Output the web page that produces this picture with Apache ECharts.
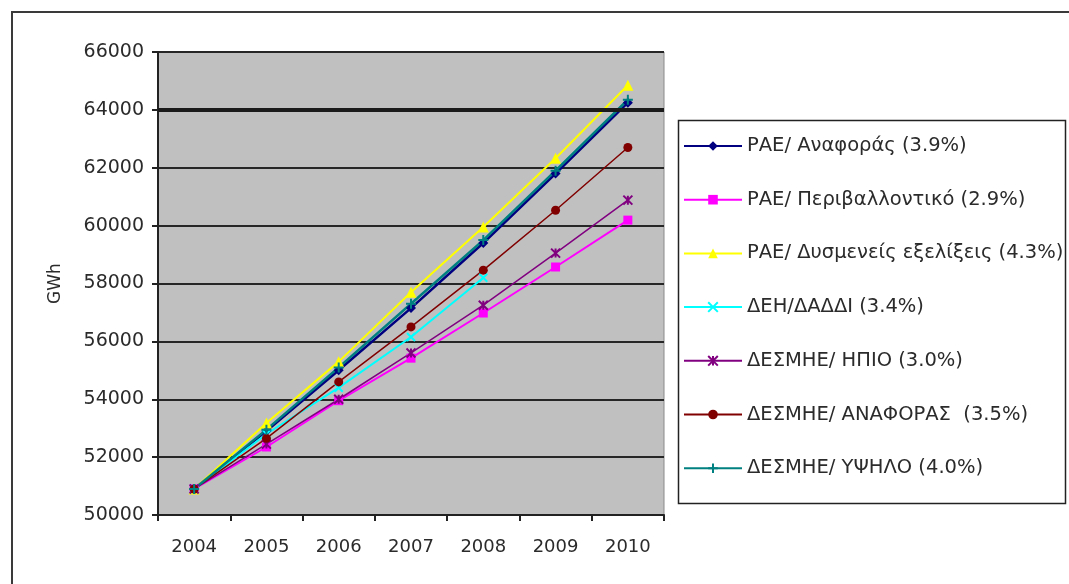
<!DOCTYPE html>
<html>
<head>
<meta charset="utf-8">
<script src="https://cdn.jsdelivr.net/npm/echarts@6/dist/echarts.min.js"></script>
<style>
  html, body { margin: 0; padding: 0; background: #ffffff; }
  #chart { width: 1069px; height: 584px; }
</style>
</head>
<body>
<div id="chart"></div>
<script>
// Electricity demand forecasts, GWh per year
const years = ['2004', '2005', '2006', '2007', '2008', '2009', '2010'];

const raeReference   = [50900, 52900, 55000, 57150, 59400, 61800, 64250];
const raeEnvironment = [50900, 52350, 53950, 55420, 56980, 58570, 60190];
const raeAdverse     = [50900, 53180, 55300, 57700, 59950, 62330, 64850];
const deiDaddi       = [50900, 52800, 54400, 56150, 58200, null, null];
const desmieIpio     = [50900, 52450, 54000, 55600, 57250, 59050, 60880];
const desmieRef      = [50900, 52650, 54600, 56500, 58460, 60530, 62700];
const desmieHigh     = [50900, 52950, 55100, 57300, 59500, 61900, 64350];

const seriesNames = [
  'ΡΑΕ/ Αναφοράς (3.9%)',
  'ΡΑΕ/ Περιβαλλοντικό (2.9%)',
  'ΡΑΕ/ Δυσμενείς εξελίξεις (4.3%)',
  'ΔΕΗ/ΔΑΔΔΙ (3.4%)',
  'ΔΕΣΜΗΕ/ ΗΠΙΟ (3.0%)',
  'ΔΕΣΜΗΕ/ ΑΝΑΦΟΡΑΣ  (3.5%)',
  'ΔΕΣΜΗΕ/ ΥΨΗΛΟ (4.0%)'
];

const yMin = 50000, yMax = 66000, yStep = 2000;
const highlightLevel = 64000;

const FONT = 'DejaVu Sans';
const TEXT = '#2b2b2b';

// stroked marker outlines
const CROSS = 'path://M0,0L10,10M10,0L0,10';
const STAR = 'path://M0,0L10,10M10,0L0,10M5,0L5,10';
const PLUS = 'path://M5,0L5,10M0,5L10,5';

function lineSeries(name, data, color, symbol, size, width, stroked) {
  return {
    name: name,
    type: 'line',
    data: data,
    symbol: symbol,
    symbolSize: size,
    showSymbol: true,
    connectNulls: false,
    lineStyle: { color: color, width: width },
    itemStyle: stroked
      ? { color: color, borderColor: color, borderWidth: 2 }
      : { color: color, borderWidth: 0 },
    emphasis: { disabled: true },
    animation: false
  };
}

const series = [
  lineSeries(seriesNames[0], raeReference,   '#000080', 'diamond',  10, 2.5, false),
  lineSeries(seriesNames[1], raeEnvironment, '#ff00ff', 'rect',      9, 2,   false),
  lineSeries(seriesNames[2], raeAdverse,     '#ffff00', 'triangle', 11, 2,   false),
  lineSeries(seriesNames[3], deiDaddi,       '#00ffff', CROSS,       8, 2,   true),
  lineSeries(seriesNames[4], desmieIpio,     '#800080', STAR,        9, 1.5, true),
  lineSeries(seriesNames[5], desmieRef,      '#800000', 'circle',    9, 1.5, false),
  lineSeries(seriesNames[6], desmieHigh,     '#008080', PLUS,       10, 2.5, true)
];

// heavier gridline at the highlighted level
series[0].markLine = {
  silent: true,
  symbol: 'none',
  label: { show: false },
  lineStyle: { color: '#1a1a1a', width: 4, type: 'solid' },
  data: [{ yAxis: highlightLevel }],
  animation: false
};

const chart = echarts.init(document.getElementById('chart'), null, { renderer: 'canvas' });

chart.setOption({
  backgroundColor: '#ffffff',
  animation: false,
  textStyle: { fontFamily: FONT, color: TEXT },
  grid: {
    left: 158, right: 405, top: 52, bottom: 69,
    show: true,
    backgroundColor: '#c0c0c0',
    borderColor: '#8a8a8a',
    borderWidth: 1
  },
  xAxis: {
    type: 'category',
    data: years,
    boundaryGap: true,
    axisLine: { lineStyle: { color: '#222', width: 2 } },
    axisTick: { show: true, length: 6, inside: false, lineStyle: { color: '#222', width: 2 } },
    axisLabel: { color: TEXT, fontFamily: FONT, fontSize: 18, margin: 23 },
    splitLine: { show: false }
  },
  yAxis: {
    type: 'value',
    min: yMin,
    max: yMax,
    interval: yStep,
    name: 'GWh',
    nameLocation: 'middle',
    nameRotate: 90,
    nameGap: 94,
    nameTextStyle: { color: TEXT, fontFamily: FONT, fontSize: 17 },
    axisLine: { show: true, lineStyle: { color: '#222', width: 2 } },
    axisTick: { show: true, length: 6, inside: false, lineStyle: { color: '#222', width: 2 } },
    axisLabel: {
      color: TEXT, fontFamily: FONT, fontSize: 19, margin: 14,
      formatter: function (v) { return String(v); }
    },
    splitLine: { show: true, lineStyle: { color: '#262626', width: 2 } }
  },
  legend: {
    orient: 'vertical',
    left: 683,
    top: 136,
    padding: 0,
    itemWidth: 58,
    itemHeight: 12,
    itemGap: 33.7,
    textStyle: { color: TEXT, fontFamily: FONT, fontSize: 19.5 },
    data: seriesNames,
    selectedMode: false
  },
  graphic: [
    {
      type: 'rect',
      silent: true,
      shape: { x: 678.5, y: 120.5, width: 387, height: 383 },
      style: { fill: 'none', stroke: '#222', lineWidth: 1.5 }
    },
    {
      type: 'rect',
      silent: true,
      shape: { x: 12, y: 12, width: 1100, height: 620 },
      style: { fill: 'none', stroke: '#3a3a3a', lineWidth: 2 }
    }
  ],
  series: series
});
</script>
</body>
</html>
